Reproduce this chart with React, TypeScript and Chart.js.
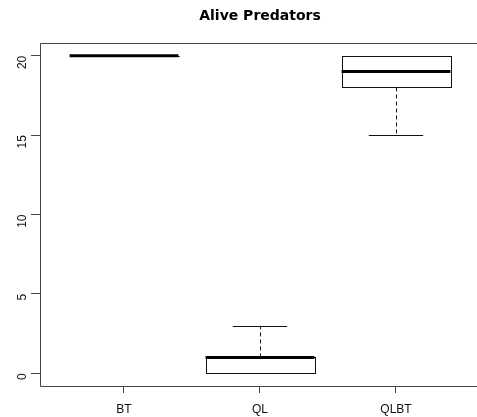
import React, { useEffect, useRef } from "react";
import { Chart, registerables } from "chart.js";

Chart.register(...registerables);

const categories = ["BT", "QL", "QLBT"];
const whiskerLow = [20, 0, 15];
const q1 = [20, 0, 18];
const medians = [20, 1, 19];
const q3 = [20, 1, 20];
const whiskerHigh = [20, 3, 20];
const yTicks = [0, 5, 10, 15, 20];
const title = "Alive Predators";

const boxPlugin = {
  id: "rbox",
  afterDatasetsDraw(chart: any) {
    const { ctx, chartArea } = chart;
    const xs = chart.scales.x;
    const ys = chart.scales.y;
    const step = xs.getPixelForValue(2) - xs.getPixelForValue(1);
    const hw = step * 0.4;
    ctx.save();
    // frame
    ctx.strokeStyle = "#444";
    ctx.lineWidth = 1;
    ctx.beginPath();
    ctx.moveTo(chart.width + 5, Math.round(chartArea.top) + 0.5);
    ctx.lineTo(Math.round(chartArea.left) + 0.5, Math.round(chartArea.top) + 0.5);
    ctx.lineTo(Math.round(chartArea.left) + 0.5, Math.round(chartArea.bottom) + 0.5);
    ctx.lineTo(chart.width + 5, Math.round(chartArea.bottom) + 0.5);
    ctx.stroke();

    categories.forEach((_, i) => {
      const cx = xs.getPixelForValue(i + 1);
      const yq1 = ys.getPixelForValue(q1[i]);
      const yq3 = ys.getPixelForValue(q3[i]);
      const ymed = ys.getPixelForValue(medians[i]);
      const ylo = ys.getPixelForValue(whiskerLow[i]);
      const yhi = ys.getPixelForValue(whiskerHigh[i]);
      ctx.strokeStyle = "#111";
      ctx.lineWidth = 1;
      // whiskers
      ctx.setLineDash([4, 3]);
      ctx.beginPath();
      if (whiskerHigh[i] > q3[i]) {
        ctx.moveTo(Math.round(cx) + 0.5, yq3);
        ctx.lineTo(Math.round(cx) + 0.5, yhi);
      }
      if (whiskerLow[i] < q1[i]) {
        ctx.moveTo(Math.round(cx) + 0.5, yq1);
        ctx.lineTo(Math.round(cx) + 0.5, ylo);
      }
      ctx.stroke();
      ctx.setLineDash([]);
      // caps
      ctx.beginPath();
      ctx.moveTo(cx - hw / 2, Math.round(yhi) + 0.5);
      ctx.lineTo(cx + hw / 2, Math.round(yhi) + 0.5);
      ctx.moveTo(cx - hw / 2, Math.round(ylo) + 0.5);
      ctx.lineTo(cx + hw / 2, Math.round(ylo) + 0.5);
      ctx.stroke();
      // box
      ctx.fillStyle = "#fff";
      const top = Math.round(yq3) + 0.5;
      const bot = Math.round(yq1) + 0.5;
      ctx.fillRect(cx - hw, top, hw * 2, bot - top);
      ctx.strokeRect(Math.round(cx - hw) + 0.5, top, Math.round(hw * 2), bot - top);
      // median
      ctx.lineWidth = 3;
      ctx.strokeStyle = "#000";
      ctx.beginPath();
      ctx.moveTo(cx - hw, ymed);
      ctx.lineTo(cx + hw, ymed);
      ctx.stroke();
    });

    // title
    ctx.fillStyle = "#000";
    ctx.font = "bold 14px 'DejaVu Sans', sans-serif";
    ctx.textAlign = "center";
    ctx.textBaseline = "alphabetic";
    ctx.fillText(title, xs.getPixelForValue(2), 20);
    ctx.restore();
  },
};

export default function App() {
  const ref = useRef<HTMLCanvasElement | null>(null);
  useEffect(() => {
    document.body.style.margin = "0";
    const chart = new Chart(ref.current as HTMLCanvasElement, {
      type: "scatter",
      data: { datasets: [{ data: [], pointRadius: 0 }] },
      options: {
        animation: false,
        responsive: true,
        maintainAspectRatio: false,
        layout: { padding: { top: 43, left: 0, right: 0, bottom: 0 } },
        plugins: { legend: { display: false }, tooltip: { enabled: false }, title: { display: false } },
        scales: {
          x: {
            type: "linear",
            min: 0.3824,
            max: 3.5956,
            afterFit: (s: any) => { s.height = 31; },
            afterBuildTicks: (s: any) => { s.ticks = categories.map((_, i) => ({ value: i + 1 })); },
            border: { display: false },
            grid: { drawOnChartArea: false, drawTicks: true, tickLength: 7, color: "#444" },
            ticks: {
              color: "#111",
              padding: 9,
              maxRotation: 0,
              autoSkip: false,
              font: { family: "'Liberation Sans', Arial, sans-serif", size: 12 },
              callback: (v: any) => categories[Math.round(v) - 1] ?? "",
            },
          },
          y: {
            type: "linear",
            min: -0.8,
            max: 20.8,
            afterFit: (s: any) => { s.width = 40; },
            afterBuildTicks: (s: any) => { s.ticks = yTicks.map((v) => ({ value: v })); },
            border: { display: false },
            grid: { drawOnChartArea: false, drawTicks: true, tickLength: 9, color: "#444" },
            ticks: {
              color: "#111",
              padding: 8,
              minRotation: 90,
              maxRotation: 90,
              font: { family: "'Liberation Sans', Arial, sans-serif", size: 12 },
              callback: (v: any) => String(v),
            },
          },
        },
      },
      plugins: [boxPlugin],
    } as any);
    return () => chart.destroy();
  }, []);
  return (
    <div style={{ position: "absolute", left: 0, top: 0, width: 477, height: 417 }}>
      <canvas ref={ref} />
    </div>
  );
}
